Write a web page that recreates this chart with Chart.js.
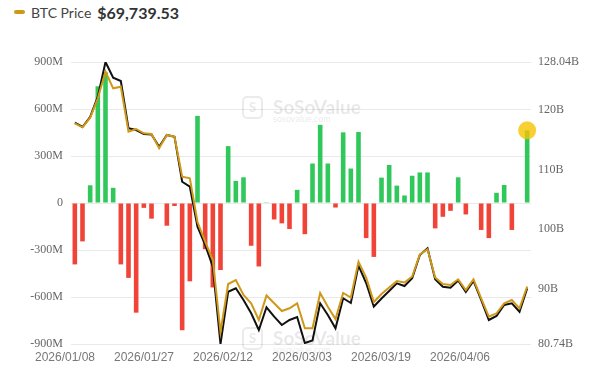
<!DOCTYPE html>
<html>
<head>
<meta charset="utf-8">
<script src="https://cdn.jsdelivr.net/npm/chart.js@4.4.1/dist/chart.umd.min.js"></script>
<style>
  body { margin: 0; background: #fff; }
  #wrap { position: relative; width: 598px; height: 374px; }
  .legend { position: absolute; left: 8px; top: 1px; height: 22px; padding: 0 6px; display: flex; align-items: center;
            font-family: Lato, "Liberation Sans", sans-serif; background: #fff; }
  .legend .mark { width: 11px; height: 4px; border-radius: 2px; background: #cf9818; margin-right: 6px; }
  .legend .name { font-size: 14px; color: #444; margin-right: 6px; }
  .legend .val { font-size: 16px; font-weight: bold; color: #333; }
  .wm { position: absolute; left: 242px; pointer-events: none; color: rgba(0,0,0,0.09); font-family: Lato, sans-serif; }
  .wm .ico { position: absolute; left: 0; top: 0; width: 17px; height: 19px; border: 2px solid rgba(0,0,0,0.08);
             border-radius: 5px; font-size: 13px; font-weight: bold; text-align: center; line-height: 19px; }
  .wm .t1 { position: absolute; left: 31px; top: -1px; font-size: 19px; font-weight: bold; white-space: nowrap; }
  .wm .t2 { position: absolute; left: 31px; top: 17px; font-size: 9px; white-space: nowrap; }
</style>
</head>
<body>
<div id="wrap">
  <canvas id="grafico"></canvas>
  <div class="legend"><span class="mark"></span><span class="name">BTC Price</span><span class="val">$69,739.53</span></div>
  <div class="wm" style="top:96px"><div class="ico">S</div><div class="t1">SoSoValue</div><div class="t2">sosovalue.com</div></div>
  <div class="wm" style="top:327px"><div class="ico">S</div><div class="t1">SoSoValue</div><div class="t2">sosovalue.com</div></div>
</div>
<script>
// datas (dias úteis)
const dates = [
  "2026/01/08","2026/01/09","2026/01/12","2026/01/13","2026/01/14","2026/01/15","2026/01/16","2026/01/20","2026/01/21","2026/01/22",
  "2026/01/23","2026/01/26","2026/01/27","2026/01/28","2026/01/29","2026/01/30","2026/02/02","2026/02/03","2026/02/04","2026/02/05",
  "2026/02/06","2026/02/09","2026/02/10","2026/02/11","2026/02/12","2026/02/13","2026/02/17","2026/02/18","2026/02/19","2026/02/20",
  "2026/02/23","2026/02/24","2026/02/25","2026/02/26","2026/02/27","2026/03/02","2026/03/03","2026/03/04","2026/03/05","2026/03/06",
  "2026/03/09","2026/03/10","2026/03/11","2026/03/12","2026/03/13","2026/03/16","2026/03/17","2026/03/18","2026/03/19","2026/03/20",
  "2026/03/23","2026/03/24","2026/03/25","2026/03/26","2026/03/27","2026/03/30","2026/03/31","2026/04/01","2026/04/02","2026/04/06"
];

// fluxo líquido diário (milhões USD)
const netInflow = [
  -392, -245, 113, 745, 835, 97, -392, -478, -700, -31,
  -100, 3, -145, -19, -812, -500, 556, -295, -539, -428,
  363, 141, 164, -273, -405, 5, -105, -130, -166, 84,
  -199, 252, 499, 252, -29, 451, 220, 453, -224, -344,
  162, 243, 111, 48, 174, 195, 195, -162, -88, -50,
  164, -73, 3, -172, -224, 65, 115, -172, 3, 464
];

// ativos líquidos totais (bilhões USD)
const totalNetAssets = [
  117.89, 117.14, 118.82, 122.22, 128.04, 125.41, 124.85, 116.92, 116.63, 115.96,
  115.88, 113.83, 115.80, 115.51, 107.96, 107.12, 100.42, 97.35, 93.71, 80.74,
  89.51, 90.08, 88.12, 85.89, 83.09, 86.90, 85.32, 83.93, 84.77, 85.27,
  80.90, 81.33, 87.57, 85.60, 83.37, 88.41, 87.62, 93.91, 90.97, 87.03,
  88.37, 89.63, 90.92, 90.47, 91.76, 95.67, 96.79, 91.59, 90.35, 90.18,
  91.39, 89.46, 91.31, 88.12, 84.77, 85.44, 87.28, 87.57, 86.16, 90.08
];

// preço do BTC (USD)
const btcPrice = [
  90575, 90064, 91290, 93766, 97162, 95043, 95247, 89502, 89847, 89298,
  89209, 87383, 89081, 88864, 83758, 83553, 77975, 75460, 73123, 63932,
  70060, 70570, 68655, 67596, 65464, 68592, 67596, 66613, 66957, 67596,
  64404, 64404, 68911, 67162, 65592, 68911, 68336, 72906, 70889, 67762,
  68783, 69613, 70443, 70251, 71017, 73826, 74489, 70889, 70060, 69932,
  70660, 69294, 70660, 68234, 65885, 66319, 67596, 68017, 66957, 69739.53
];

const dateTicks = ["2026/01/08", "2026/01/27", "2026/02/12", "2026/03/03", "2026/03/19", "2026/04/06"];
const leftTicks = [-900, -600, -300, 0, 300, 600, 900];
const rightTicks = [80.74, 90, 100, 110, 120, 128.04];

const verde = "#30c85a";
const vermelho = "#f04438";
const dourado = "#cf9818";
const fonteEixo = { family: "'Liberation Serif', serif", size: 12 };

// destaque no último ponto
const ultimo = netInflow.map((v, i) => (i === netInflow.length - 1 ? v : null));

const ctx = document.getElementById("grafico").getContext("2d");
new Chart(ctx, {
  data: {
    labels: dates,
    datasets: [
      {
        type: "line",
        label: "destaque",
        data: ultimo,
        yAxisID: "y",
        pointRadius: 9,
        pointHoverRadius: 9,
        pointBackgroundColor: "rgba(246,196,0,0.8)",
        pointBorderWidth: 0,
        showLine: false,
        order: 0
      },
      {
        type: "line",
        label: "BTC Price",
        data: btcPrice,
        yAxisID: "yPrice",
        borderColor: dourado,
        borderWidth: 2,
        pointRadius: 0,
        tension: 0,
        order: 1
      },
      {
        type: "line",
        label: "Total Net Assets",
        data: totalNetAssets,
        yAxisID: "yRight",
        borderColor: "#111111",
        borderWidth: 2,
        pointRadius: 0,
        tension: 0,
        order: 2
      },
      {
        type: "bar",
        label: "Daily Net Inflow",
        data: netInflow,
        yAxisID: "y",
        backgroundColor: netInflow.map(v => (v >= 0 ? verde : vermelho)),
        barPercentage: 0.6,
        categoryPercentage: 1,
        order: 3
      }
    ]
  },
  options: {
    responsive: true,
    maintainAspectRatio: false,
    animation: false,
    layout: { padding: { top: 62, left: 0, right: 0, bottom: 0 } },
    plugins: { legend: { display: false }, tooltip: { enabled: false } },
    scales: {
      x: { type: "category", display: false, offset: true },
      x2: {
        type: "linear",
        position: "bottom",
        min: 0.076,
        max: 5.899,
        afterBuildTicks: s => { s.ticks = dateTicks.map((_, k) => ({ value: k })); },
        afterFit: s => { s.height = 30; },
        grid: { display: false, drawTicks: false },
        border: { display: false },
        ticks: {
          autoSkip: false,
          maxRotation: 0,
          padding: 6,
          color: "#777",
          font: { family: "'Liberation Sans', sans-serif", size: 12 },
          callback: v => dateTicks[v]
        }
      },
      y: {
        position: "left",
        min: -900,
        max: 900,
        afterBuildTicks: s => { s.ticks = leftTicks.map(v => ({ value: v })); },
        afterFit: s => { s.width = 71; },
        grid: { color: "#e9e9e9", drawTicks: false },
        border: { display: false },
        ticks: {
          padding: 8,
          color: "#666",
          font: fonteEixo,
          callback: v => (v === 0 ? "0" : v + "M")
        }
      },
      yRight: {
        position: "right",
        min: rightTicks[0],
        max: rightTicks[rightTicks.length - 1],
        afterBuildTicks: s => { s.ticks = rightTicks.map(v => ({ value: v })); },
        afterFit: s => { s.width = 67; },
        grid: { display: false, drawTicks: false },
        border: { display: false },
        ticks: {
          padding: 7,
          color: "#666",
          font: fonteEixo,
          callback: v => (Number.isInteger(v) ? v : v.toFixed(2)) + "B"
        }
      },
      yPrice: { display: false, min: 62400, max: 98400 }
    }
  }
});
</script>
</body>
</html>
